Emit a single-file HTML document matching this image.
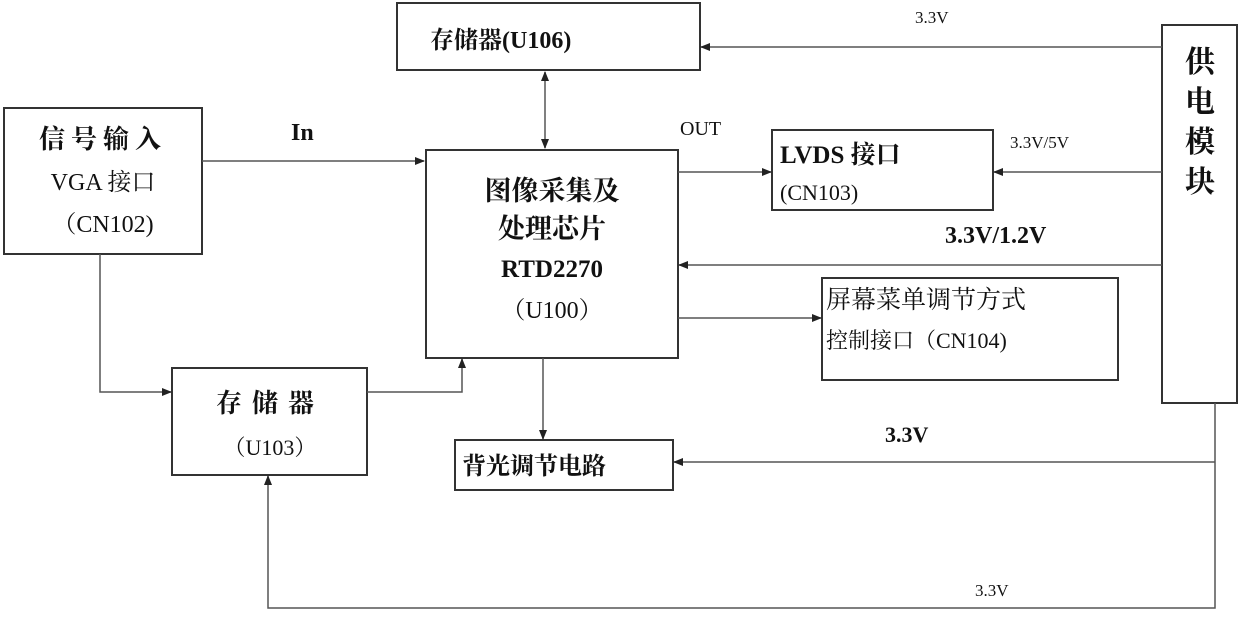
<!DOCTYPE html>
<html><head><meta charset="utf-8"><style>
body{margin:0;background:#fff}
svg text{font-family:"Liberation Serif","Noto Serif CJK SC",serif;fill:#111}
</style></head><body>
<svg width="1240" height="615" viewBox="0 0 1240 615" xmlns="http://www.w3.org/2000/svg">
<defs><marker id="a" markerWidth="10" markerHeight="8" refX="9" refY="4" orient="auto" markerUnits="userSpaceOnUse"><path d="M0,0 L10,4 L0,8 Z" fill="#222"/></marker>
<marker id="b" markerWidth="10" markerHeight="8" refX="1" refY="4" orient="auto" markerUnits="userSpaceOnUse"><path d="M10,0 L0,4 L10,8 Z" fill="#222"/></marker></defs>
<g fill="none" stroke="#333" stroke-width="2">
<rect x="397" y="3" width="303" height="67"/>
<rect x="4" y="108" width="198" height="146"/>
<rect x="426" y="150" width="252" height="208"/>
<rect x="772" y="130" width="221" height="80"/>
<rect x="822" y="278" width="296" height="102"/>
<rect x="1162" y="25" width="75" height="378"/>
<rect x="172" y="368" width="195" height="107"/>
<rect x="455" y="440" width="218" height="50"/>
</g>
<g fill="none" stroke="#555" stroke-width="1.5">
<line x1="1162" y1="47" x2="701" y2="47" marker-end="url(#a)"/>
<line x1="545" y1="72" x2="545" y2="148" marker-start="url(#b)" marker-end="url(#a)"/>
<line x1="202" y1="161" x2="424" y2="161" marker-end="url(#a)"/>
<line x1="678" y1="172" x2="771" y2="172" marker-end="url(#a)"/>
<line x1="1162" y1="172" x2="994" y2="172" marker-end="url(#a)"/>
<line x1="1162" y1="265" x2="679" y2="265" marker-end="url(#a)"/>
<line x1="678" y1="318" x2="821" y2="318" marker-end="url(#a)"/>
<line x1="543" y1="358" x2="543" y2="439" marker-end="url(#a)"/>
<polyline points="100,254 100,392 171,392" marker-end="url(#a)"/>
<polyline points="367,392 462,392 462,359" marker-end="url(#a)"/>
<polyline points="1215,403 1215,608 268,608 268,476" marker-end="url(#a)"/>
<line x1="1215" y1="462" x2="674" y2="462" marker-end="url(#a)"/>
</g>
<text x="430" y="48" font-size="24" font-weight="bold">存储器(U106)</text>
<text x="103" y="148" font-size="26" font-weight="bold" text-anchor="middle" letter-spacing="6">信号输入</text>
<text x="103" y="190" font-size="24" text-anchor="middle">VGA 接口</text>
<text x="103" y="232" font-size="24" text-anchor="middle">（CN102)</text>
<text x="291" y="140" font-size="24" font-weight="bold">In</text>
<text x="680" y="135" font-size="20">OUT</text>
<text x="552" y="200" font-size="27" font-weight="bold" text-anchor="middle">图像采集及</text>
<text x="552" y="238" font-size="27" font-weight="bold" text-anchor="middle">处理芯片</text>
<text x="552" y="277" font-size="25" font-weight="bold" text-anchor="middle">RTD2270</text>
<text x="552" y="318" font-size="24" text-anchor="middle">（U100）</text>
<text x="780" y="163" font-size="25" font-weight="bold">LVDS  接口</text>
<text x="780" y="200" font-size="22">(CN103)</text>
<text x="1010" y="148" font-size="17" fill="#444">3.3V/5V</text>
<text x="915" y="23" font-size="17">3.3V</text>
<text x="945" y="243" font-size="24" font-weight="bold">3.3V/1.2V</text>
<text x="826" y="308" font-size="25">屏幕菜单调节方式</text>
<text x="826" y="348" font-size="22">控制接口（CN104)</text>
<text x="1200" y="72" font-size="30" font-weight="bold" text-anchor="middle">供</text>
<text x="1200" y="112" font-size="30" font-weight="bold" text-anchor="middle">电</text>
<text x="1200" y="152" font-size="30" font-weight="bold" text-anchor="middle">模</text>
<text x="1200" y="192" font-size="30" font-weight="bold" text-anchor="middle">块</text>
<text x="270" y="412" font-size="26" font-weight="bold" text-anchor="middle" letter-spacing="10">存储器</text>
<text x="270" y="455" font-size="22" text-anchor="middle">（U103）</text>
<text x="462" y="474" font-size="24" font-weight="bold">背光调节电路</text>
<text x="885" y="442" font-size="22" font-weight="bold">3.3V</text>
<text x="975" y="596" font-size="17">3.3V</text>
</svg>
</body></html>
